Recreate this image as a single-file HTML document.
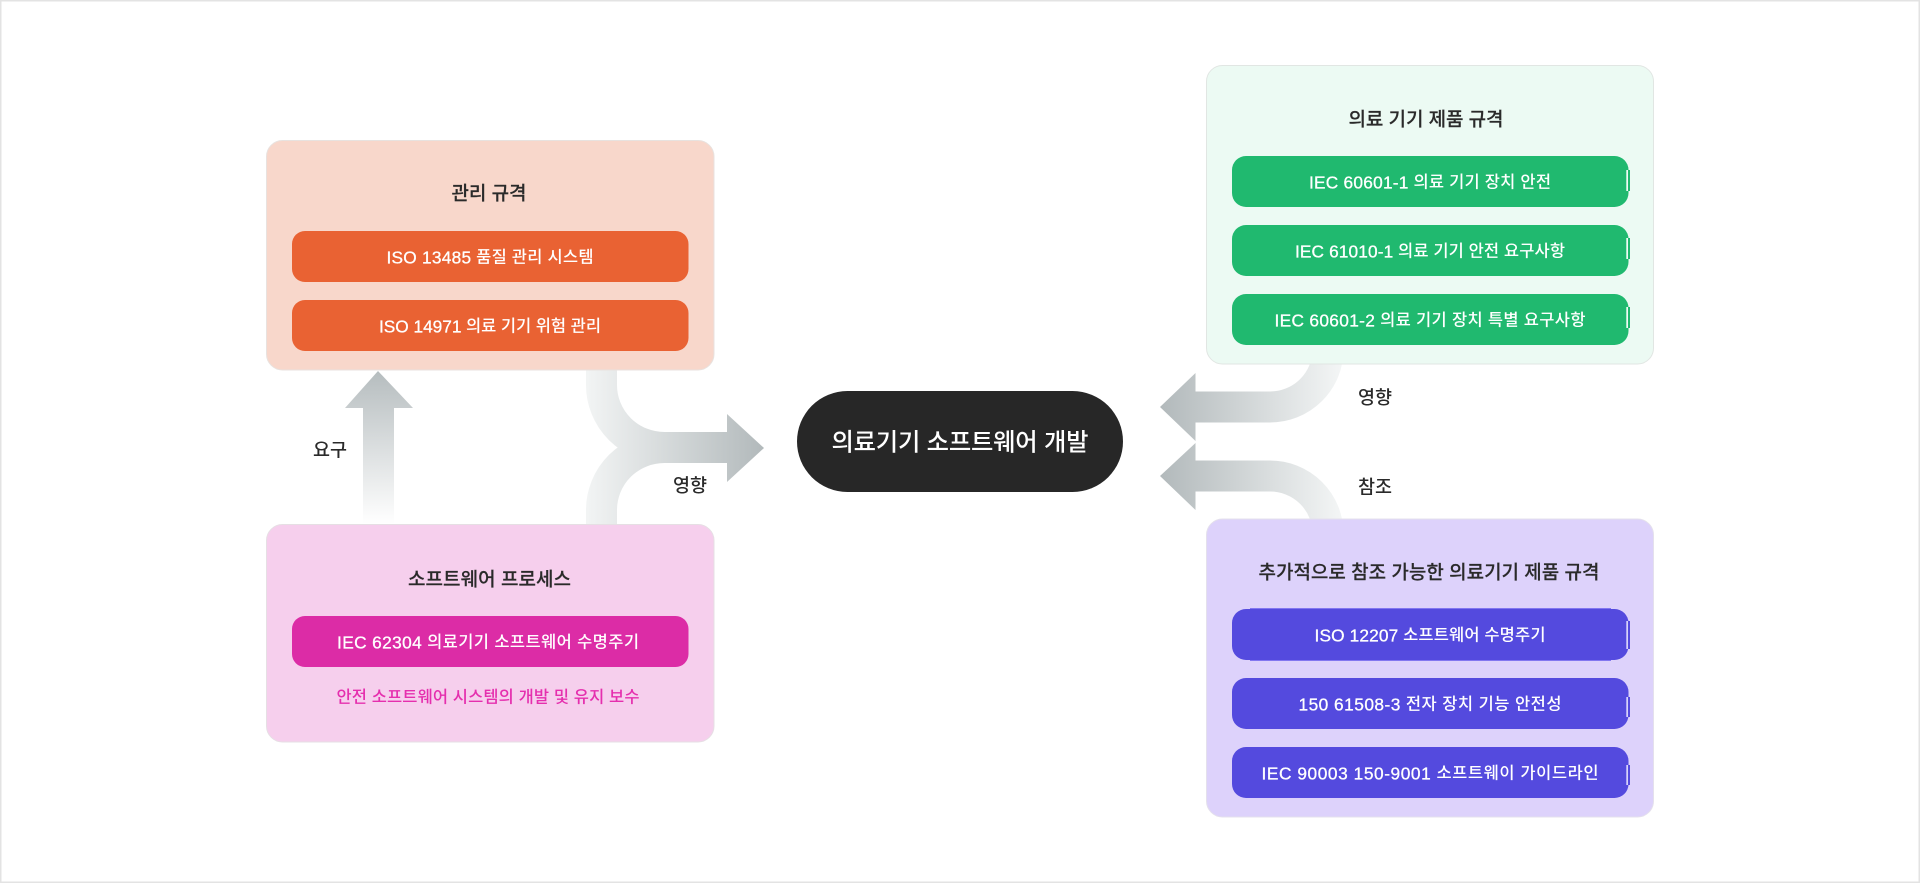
<!DOCTYPE html>
<html lang="ko">
<head>
<meta charset="utf-8">
<title>의료기기 소프트웨어 개발</title>
<style>
html,body{margin:0;padding:0;background:#fff;width:1920px;height:883px;overflow:hidden}
svg{display:block}
text{font-family:"Liberation Sans","Noto Sans CJK KR",sans-serif;text-anchor:middle;dominant-baseline:central;transform:translateY(1.2px)}
.t{font-size:19px;font-weight:500;fill:#2a2a2a;stroke:#2a2a2a;stroke-width:.15px}
.r{font-size:16.5px;font-weight:500;fill:#fff}
.r tspan{font-size:17.3px;stroke:#fff;stroke-width:.3px}
.l{font-size:18.5px;font-weight:500;fill:#2a2a2a}
.c{font-size:24.3px;font-weight:500;fill:#fff}
</style>
</head>
<body>
<svg width="1920" height="883" viewBox="0 0 1920 883" xmlns="http://www.w3.org/2000/svg">
<defs>
<linearGradient id="gu" gradientUnits="userSpaceOnUse" x1="0" y1="372" x2="0" y2="524">
<stop offset="0" stop-color="#b6bdbf"/><stop offset="1" stop-color="#ffffff"/>
</linearGradient>
<linearGradient id="gm" gradientUnits="userSpaceOnUse" x1="587" y1="0" x2="764" y2="0">
<stop offset="0" stop-color="#f2f4f4"/><stop offset="1" stop-color="#b2b9bb"/>
</linearGradient>
<linearGradient id="gr" gradientUnits="userSpaceOnUse" x1="1160" y1="0" x2="1343" y2="0">
<stop offset="0" stop-color="#b2b9bb"/><stop offset="1" stop-color="#f4f6f6"/>
</linearGradient>
</defs>

<rect x=".75" y=".75" width="1918.5" height="881.5" fill="#fff" stroke="#e3e3e3" stroke-width="1.5"/>

<!-- up arrow -->
<polygon points="378,371 413,408 394,408 394,524 363,524 363,408 345,408" fill="url(#gu)"/>
<!-- merge arrow -->
<g fill="none" stroke="url(#gm)" stroke-width="31">
<path d="M601.5 365V385A63 62.5 0 0 0 664.5 447.5H730"/>
<path d="M601.5 530V510A63 62.5 0 0 1 664.5 447.5H730"/>
</g>
<polygon points="727,414 764,448 727,482" fill="url(#gm)"/>
<!-- right arrows -->
<g fill="none" stroke="url(#gr)" stroke-width="31">
<path d="M1192 407H1270A58 57.5 0 0 0 1328 349.5"/>
<path d="M1192 476H1270A58 57.5 0 0 1 1328 533.5"/>
</g>
<polygon points="1195.5,373 1160,407 1195.5,441" fill="url(#gr)"/>
<polygon points="1195.5,443 1160,476 1195.5,510" fill="url(#gr)"/>

<!-- panel 1 -->
<rect x="266.5" y="140.5" width="447.5" height="229.5" rx="16" fill="#f8d7cb" stroke="#e8e2df"/>
<text class="t" x="489" y="193" textLength="75">관리 규격</text>
<rect x="292" y="231" width="396.5" height="51" rx="13" fill="#e96233"/>
<text class="r" x="490" y="256.5" textLength="207"><tspan>ISO 13485</tspan> 품질 관리 시스템</text>
<rect x="292" y="300" width="396.5" height="51" rx="13" fill="#e96233"/>
<text class="r" x="490" y="325.5" textLength="222"><tspan>ISO 14971</tspan> 의료 기기 위험 관리</text>

<!-- panel 2 -->
<rect x="266.5" y="524.5" width="447.5" height="217.5" rx="16" fill="#f6cfed" stroke="#e6dfe4"/>
<text class="t" x="489.5" y="579" textLength="163">소프트웨어 프로세스</text>
<rect x="292" y="616" width="396.5" height="51" rx="13" fill="#dc2ca6"/>
<text class="r" x="488" y="641.5" textLength="302"><tspan>IEC 62304</tspan> 의료기기 소프트웨어 수명주기</text>
<text class="r" x="488" y="696.5" textLength="303" style="fill:#e52fae">안전 소프트웨어 시스템의 개발 및 유지 보수</text>

<!-- center -->
<rect x="797" y="391" width="326" height="101" rx="50.5" fill="#272727"/>
<text class="c" x="960" y="442" textLength="257">의료기기 소프트웨어 개발</text>

<!-- panel 3 -->
<rect x="1206.5" y="65.5" width="447" height="298.5" rx="16" fill="#ecfaf3" stroke="#e1e6e3"/>
<text class="t" x="1426" y="119" textLength="155">의료 기기 제품 규격</text>
<g fill="#20b96f">
<rect x="1232" y="156" width="396.5" height="51" rx="14"/>
<rect x="1232" y="225" width="396.5" height="51" rx="14"/>
<rect x="1232" y="294" width="396.5" height="51" rx="14"/>
<rect x="1628" y="170" width="2" height="21"/>
<rect x="1628" y="238" width="2" height="21"/>
<rect x="1628" y="307" width="2" height="21"/>
</g>
<g fill="#f0fbf6">
<rect x="1626.3" y="170" width="1.7" height="21"/>
<rect x="1626.3" y="238" width="1.7" height="21"/>
<rect x="1626.3" y="307" width="1.7" height="21"/>
</g>
<text class="r" x="1430" y="181.5" textLength="242"><tspan>IEC 60601-1</tspan> 의료 기기 장치 안전</text>
<text class="r" x="1430" y="250.5" textLength="270"><tspan>IEC 61010-1</tspan> 의료 기기 안전 요구사항</text>
<text class="r" x="1430" y="319.5" textLength="311"><tspan>IEC 60601-2</tspan> 의료 기기 장치 특별 요구사항</text>

<!-- panel 4 -->
<rect x="1206.5" y="519" width="447" height="298" rx="16" fill="#ddd2fb" stroke="#e4e0ec"/>
<text class="t" x="1429" y="572" textLength="341">추가적으로 참조 가능한 의료기기 제품 규격</text>
<g fill="#544ade">
<rect x="1232" y="609" width="396.5" height="51" rx="14"/>
<rect x="1232" y="678" width="396.5" height="51" rx="14"/>
<rect x="1232" y="747" width="396.5" height="51" rx="14"/>
<rect x="1628" y="621" width="2" height="28"/>
<rect x="1628" y="697" width="2" height="20"/>
<rect x="1628" y="765" width="2" height="20"/>
</g>
<path d="M1250 608.5H1611M1250 660.5H1611" stroke="#8277f0" stroke-width="1" fill="none"/>
<g fill="#d8d3fa">
<rect x="1626.3" y="621" width="1.7" height="28"/>
<rect x="1626.3" y="697" width="1.7" height="20"/>
<rect x="1626.3" y="765" width="1.7" height="20"/>
</g>
<text class="r" x="1430" y="634.5" textLength="231"><tspan>ISO 12207</tspan> 소프트웨어 수명주기</text>
<text class="r" x="1430" y="703.5" textLength="263"><tspan>150 61508-3</tspan> 전자 장치 기능 안전성</text>
<text class="r" x="1430" y="772.5" textLength="337"><tspan>IEC 90003 150-9001</tspan> 소프트웨이 가이드라인</text>

<!-- labels -->
<text class="l" x="330" y="449">요구</text>
<text class="l" x="690" y="484.5">영향</text>
<text class="l" x="1375" y="396.5">영향</text>
<text class="l" x="1375" y="486">참조</text>
</svg>
</body>
</html>
